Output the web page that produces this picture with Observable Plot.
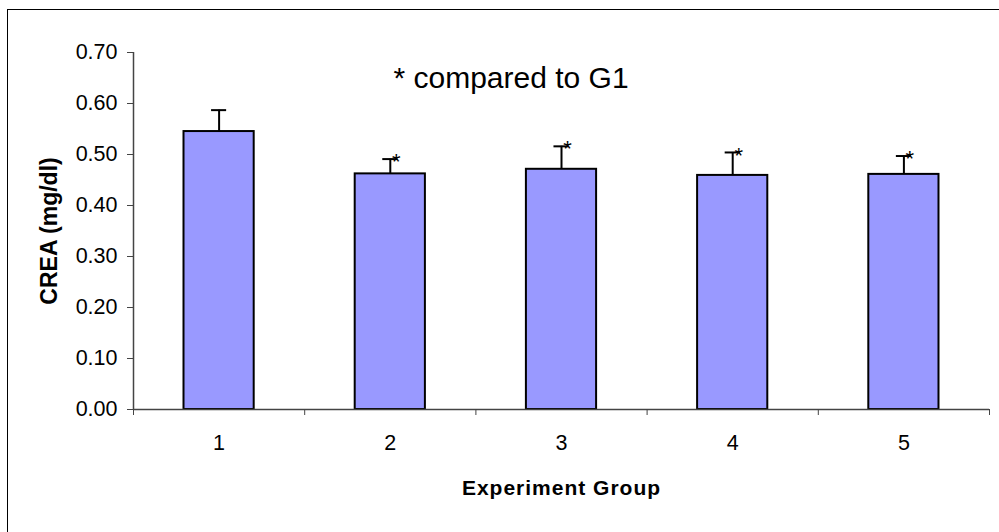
<!DOCTYPE html>
<html>
<head>
<meta charset="utf-8">
<script src="https://cdn.jsdelivr.net/npm/d3@7"></script>
<script src="https://cdn.jsdelivr.net/npm/@observablehq/plot@0.6"></script>
<style>
  html, body { margin: 0; padding: 0; background: #fff; overflow: hidden; }
  #wrap { position: relative; width: 999px; height: 532px; }
  #frame { position: absolute; left: 7px; top: 9px; width: 1000px; height: 540px; border: 1.5px solid #000; box-sizing: border-box; }
  #chart { position: absolute; left: 0; top: 0; }
</style>
</head>
<body>
<div id="wrap"><div id="frame"></div><div id="chart"></div></div>
<script>
const groups = [1, 2, 3, 4, 5];
const means = [0.545, 0.462, 0.471, 0.459, 0.461];
const uppers = [0.587, 0.491, 0.516, 0.504, 0.497];
const significant = [false, true, true, true, true];
const yTicks = [0, 0.1, 0.2, 0.3, 0.4, 0.5, 0.6, 0.7];
const note = "* compared to G1";
const xTitle = "Experiment Group";
const yTitle = "CREA (mg/dl)";

const data = groups.map((g, i) => ({g, mean: means[i], upper: uppers[i], sig: significant[i]}));
const boundaries = [...groups.map(g => g - 0.5), groups[groups.length - 1] + 0.5];
const half = 0.205, cap = 0.044;
const font = "Liberation Sans, Arial, Helvetica, sans-serif";

const chart = Plot.plot({
  width: 999,
  height: 532,
  marginLeft: 133,
  marginRight: 10,
  marginTop: 52,
  marginBottom: 123,
  style: {fontFamily: font, background: "transparent", color: "#000"},
  x: {domain: [0.5, 5.5], axis: null},
  y: {domain: [0, 0.7], axis: null},
  marks: [
    Plot.rectY(data, {x1: d => d.g - half, x2: d => d.g + half, y1: 0, y2: "mean", fill: "#9999ff", stroke: "#000", strokeWidth: 2}),
    Plot.ruleX(data, {x: "g", y1: "mean", y2: "upper", stroke: "#000", strokeWidth: 2}),
    Plot.ruleY(data, {y: "upper", x1: d => d.g - cap, x2: d => d.g + cap, stroke: "#000", strokeWidth: 2}),
    Plot.text(data.filter(d => d.sig), {x: "g", y: "upper", text: () => "*", dx: 6, dy: 3, fontSize: 22, fill: "#000"}),
    Plot.ruleY([0], {stroke: "#444", strokeWidth: 1.5}),
    Plot.ruleX([0.5], {y1: 0, y2: 0.7, stroke: "#444", strokeWidth: 1.5}),
    Plot.axisY({ticks: yTicks, tickFormat: d3.format(".2f"), tickSize: 6, tickPadding: 10, fontSize: 21.5, stroke: "#444", label: null}),
    Plot.axisX({ticks: boundaries, tickFormat: () => "", tickSize: 6, stroke: "#444", label: null}),
    Plot.text(groups, {x: d => d, y: 0, dy: 34, text: d => String(d), fontSize: 21.5, fill: "#000"}),
    Plot.text([xTitle], {frameAnchor: "bottom", dy: 79, text: d => d, fontSize: 21, fontWeight: "bold", fill: "#000", textAnchor: "middle", lineAnchor: "middle"}),
    Plot.text([yTitle], {frameAnchor: "left", dx: -84, rotate: -90, text: d => d, fontSize: 23, fontWeight: "bold", fill: "#000", textAnchor: "middle", lineAnchor: "middle"}),
    Plot.text([note], {frameAnchor: "top-left", dx: 260, dy: 14, text: d => d, fontSize: 30, textAnchor: "start", lineAnchor: "top", fill: "#000"})
  ]
});
document.getElementById("chart").appendChild(chart);
d3.select(chart).selectAll("text").filter(function() { return this.textContent === xTitle; }).attr("letter-spacing", "1px");
</script>
</body>
</html>
